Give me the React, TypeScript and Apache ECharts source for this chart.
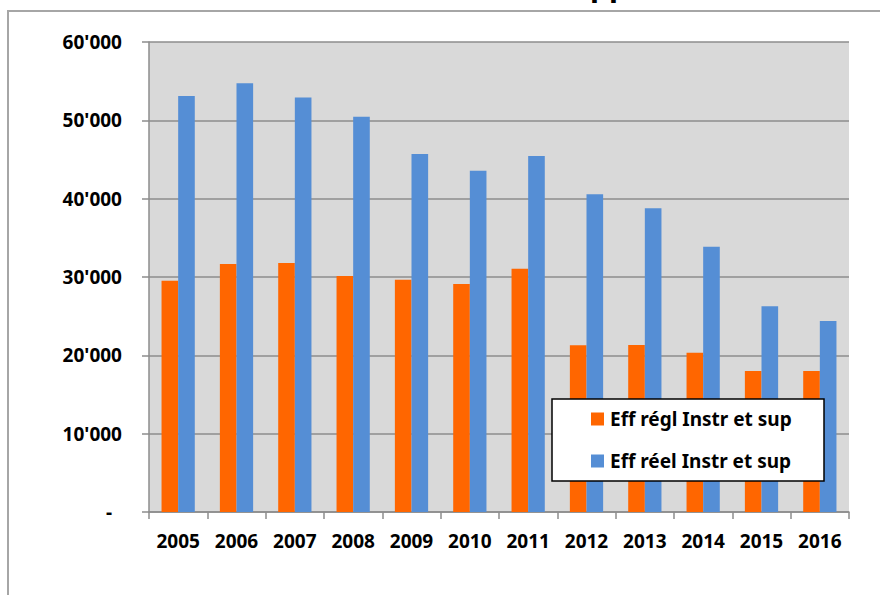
import React, { useEffect, useRef } from "react";
import * as echarts from "echarts";

const years = ["2005", "2006", "2007", "2008", "2009", "2010", "2011", "2012", "2013", "2014", "2015", "2016"];
const effRegl = [29530, 31660, 31790, 30130, 29660, 29110, 31060, 21280, 21320, 20340, 18000, 18000];
const effReel = [53100, 54750, 52900, 50450, 45700, 43570, 45450, 40560, 38770, 33870, 26260, 24380];
const seriesNames = ["Eff régl Instr et sup", "Eff réel Instr et sup"];
const yTicks = [0, 10000, 20000, 30000, 40000, 50000, 60000];

const FONT = "'Noto Sans', 'Open Sans', sans-serif";

export default function App() {
  const ref = useRef<HTMLDivElement>(null);
  useEffect(() => {
    if (!ref.current) return;
    const chart = echarts.init(ref.current, null, { renderer: "svg" });
    const fmt = (v: number) => {
      if (v === 0) return "{z|-}";
      return `${Math.round(v / 1000)}'000`;
    };
    chart.setOption({
      animation: false,
      backgroundColor: "#ffffff",
      textStyle: { fontFamily: FONT },
      graphic: [
        {
          type: "rect",
          z: 0,
          shape: { x: 8, y: 11, width: 900, height: 620 },
          style: { fill: "none", stroke: "#a6a6a6", lineWidth: 2 },
        },
        {
          type: "text",
          z: 1,
          x: 590,
          y: -31,
          style: { text: "pp", fontSize: 30, fontWeight: "bold", fontFamily: FONT, fill: "#000000" },
        },
        {
          type: "rect",
          z: 10,
          shape: { x: 552, y: 399, width: 272, height: 82 },
          style: { fill: "#ffffff", stroke: "#000000", lineWidth: 1.5 },
        },
      ],
      grid: {
        left: 149,
        top: 42,
        width: 700,
        height: 470,
        show: true,
        backgroundColor: "#d9d9d9",
        borderWidth: 0,
      },
      legend: {
        orient: "vertical",
        left: 591,
        top: 409,
        z: 20,
        itemWidth: 13,
        itemHeight: 13,
        itemGap: 22,
        icon: "rect",
        padding: 0,
        data: seriesNames,
        textStyle: {
          fontFamily: FONT,
          fontSize: 19,
          fontWeight: "bold",
          color: "#000000",
          lineHeight: 20,
          padding: [0, 0, 0, 1],
        },
      },
      xAxis: {
        type: "category",
        data: years,
        boundaryGap: true,
        axisLine: { show: true, lineStyle: { color: "#8c8c8c", width: 1.5 } },
        axisTick: { show: true, length: 7, lineStyle: { color: "#8c8c8c", width: 1.5 } },
        axisLabel: {
          margin: 19,
          fontFamily: FONT,
          fontSize: 19,
          fontWeight: "bold",
          color: "#000000",
        },
      },
      yAxis: {
        type: "value",
        min: 0,
        max: 60000,
        interval: 10000,
        axisLine: { show: true, lineStyle: { color: "#8c8c8c", width: 1.5 } },
        axisTick: { show: true, length: 7, lineStyle: { color: "#8c8c8c", width: 1.5 } },
        splitLine: { show: true, lineStyle: { color: "#8c8c8c", width: 1.5 } },
        axisLabel: {
          margin: 27,
          fontFamily: FONT,
          fontSize: 19,
          fontWeight: "bold",
          color: "#000000",
          formatter: fmt,
          customValues: yTicks,
          rich: { z: { fontFamily: FONT, fontSize: 19, fontWeight: "bold", color: "#000000", padding: [0, 10, 0, 0] } },
        },
      },
      series: [
        {
          name: seriesNames[0],
          type: "bar",
          data: effRegl,
          barGap: "0%",
          barCategoryGap: "43%",
          itemStyle: { color: "#ff6600" },
          z: 2,
        },
        {
          name: seriesNames[1],
          type: "bar",
          data: effReel,
          barGap: "0%",
          barCategoryGap: "43%",
          itemStyle: { color: "#558ed5" },
          z: 2,
        },
      ],
    });
    return () => chart.dispose();
  }, []);
  return <div ref={ref} style={{ position: "fixed", left: 0, top: 0, width: 880, height: 595 }} />;
}
